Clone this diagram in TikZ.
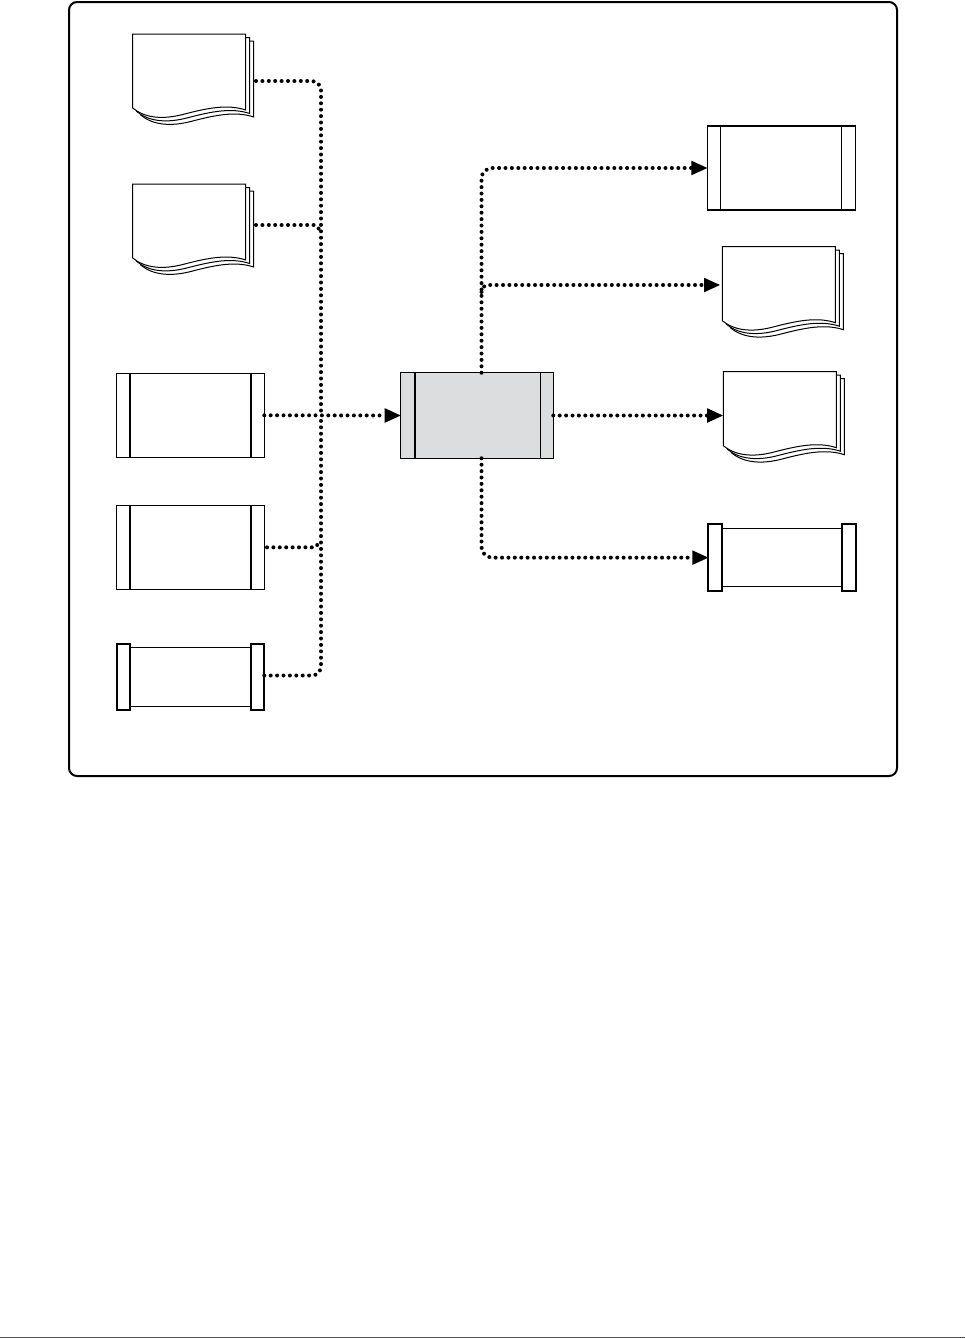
\documentclass[tikz,border=0pt]{standalone}
\usetikzlibrary{arrows.meta,fit,calc}
\definecolor{procgray}{HTML}{DCDDDF}
\definecolor{rulegray}{HTML}{555555}
\newcommand{\docpage}[2]{%
  \begin{scope}[shift={(#1,#2)}]
    \filldraw[fill=white, draw=black, line width=0.75pt]
      (0,0) -- (113,0) -- (113,76)
      .. controls (95,70) and (75,74) .. (52,80)
      .. controls (30,86) and (12,84) .. (0,74) -- cycle;
  \end{scope}}
\newcommand{\multidoc}[2]{%
  \docpage{#1+8}{#2+7}\docpage{#1+4}{#2+3.5}\docpage{#1}{#2}}
\begin{document}
\begin{tikzpicture}[x=0.75pt,y=-0.75pt,
  anchorbox/.style={inner sep=0pt, outer sep=0pt},
  thinln/.style={line width=0.75pt},
  thickln/.style={line width=1.5pt},
  connline/.style={line width=3pt, line cap=round, dash pattern=on 0pt off 4.8pt},
  conn/.style={connline, -{Triangle[length=12pt,width=11pt,line width=0pt]}}]
\useasboundingbox (0,0) rectangle (965,1339);

% frame
\node[anchorbox, fit={(69,2) (897,776)}, draw, line width=1.5pt, rounded corners=6pt] (frame) {};

% ---------- left column ----------
% document 1
\multidoc{132.7}{34}
\node[anchorbox, fit={(132.7,34) (256,128)}] (d1) {};
% document 2
\multidoc{132.7}{184}
\node[anchorbox, fit={(132.7,184) (256,266)}] (d2) {};
% process 1
\draw[thinln] (116.7,373.3) rectangle (264.3,457.3);
\draw[thickln] (130,373.3) -- (130,457.3) (251,373.3) -- (251,457.3);
\node[anchorbox, fit={(116.7,373.3) (264.3,457.3)}] (r1) {};
% process 2
\draw[thinln] (116.7,505.7) rectangle (264.3,589);
\draw[thickln] (130,505.7) -- (130,589) (251,505.7) -- (251,589);
\node[anchorbox, fit={(116.7,505.7) (267,589)}] (r2) {};
% tape-like store
\draw[thinln] (130,647) rectangle (251,706);
\draw[thickln] (116.7,644) rectangle (130,710);
\draw[thickln] (251,644) rectangle (264.3,710);
\node[anchorbox, fit={(116.7,644) (264.3,707)}] (t1) {};

% ---------- centre ----------
\filldraw[fill=procgray, draw=black, line width=1.1pt] (400.7,372.7) rectangle (553.3,458.3);
\draw[thickln] (415,372.7) -- (415,458.3);
\draw[thinln] (540.7,372.7) -- (540.7,458.3);
\node[anchorbox, fit={(400.7,372.7) (553.3,458.3)}] (c) {};

% ---------- right column ----------
% process top right
\draw[line width=1.1pt] (707.3,126) rectangle (855.7,210);
\draw[thinln] (720,126) -- (720,210) (841.7,126) -- (841.7,210);
\node[anchorbox, fit={(707.3,126) (855.7,210)}] (rt) {};
% documents right
\multidoc{722.3}{246.7}
\node[anchorbox, fit={(720,246.7) (843,323.3)}] (rd1) {};
\multidoc{723.3}{371.7}
\node[anchorbox, fit={(723,371.7) (843,461.7)}] (rd2) {};
% tape-like store right
\draw[thinln] (721.7,528) rectangle (842.3,586.7);
\draw[thickln] (708.3,524.3) rectangle (721.7,591);
\draw[thickln] (842.3,524.3) rectangle (855.7,591);
\node[anchorbox, fit={(708.3,524.3) (855.7,591)}] (rb) {};

% ---------- connectors ----------
\coordinate (j) at (321,415.4);
\coordinate (j2) at (321,231);
\coordinate (j3) at (321,541);
\draw[connline, rounded corners=7pt] (d1.east) -| (j);
\draw[connline, rounded corners=7pt] (t1.east) -| (j);
\draw[connline] (d2.east) -- (315,225) -- (j2);
\draw[connline] (r2.east) -- (315,547.3) -- (j3);
\draw[conn] (r1.east) -- (c.west);

\coordinate (cn) at (481.5,372.7);
\coordinate (cs) at (481.5,458.3);
\coordinate (k) at (481.5,292);
\draw[conn, rounded corners=8pt] (cn) |- (rt.west);
\draw[conn, rounded corners=5pt] (k) |- (rd1.west);
\draw[conn] (c.east) -- (c.east -| rd2.west);
\draw[conn, rounded corners=8pt] (cs) |- (rb.west);

% bottom rule
\draw[line width=1.1pt, draw=rulegray] (0,1337.5) -- (965,1337.5);
\end{tikzpicture}
\end{document}
